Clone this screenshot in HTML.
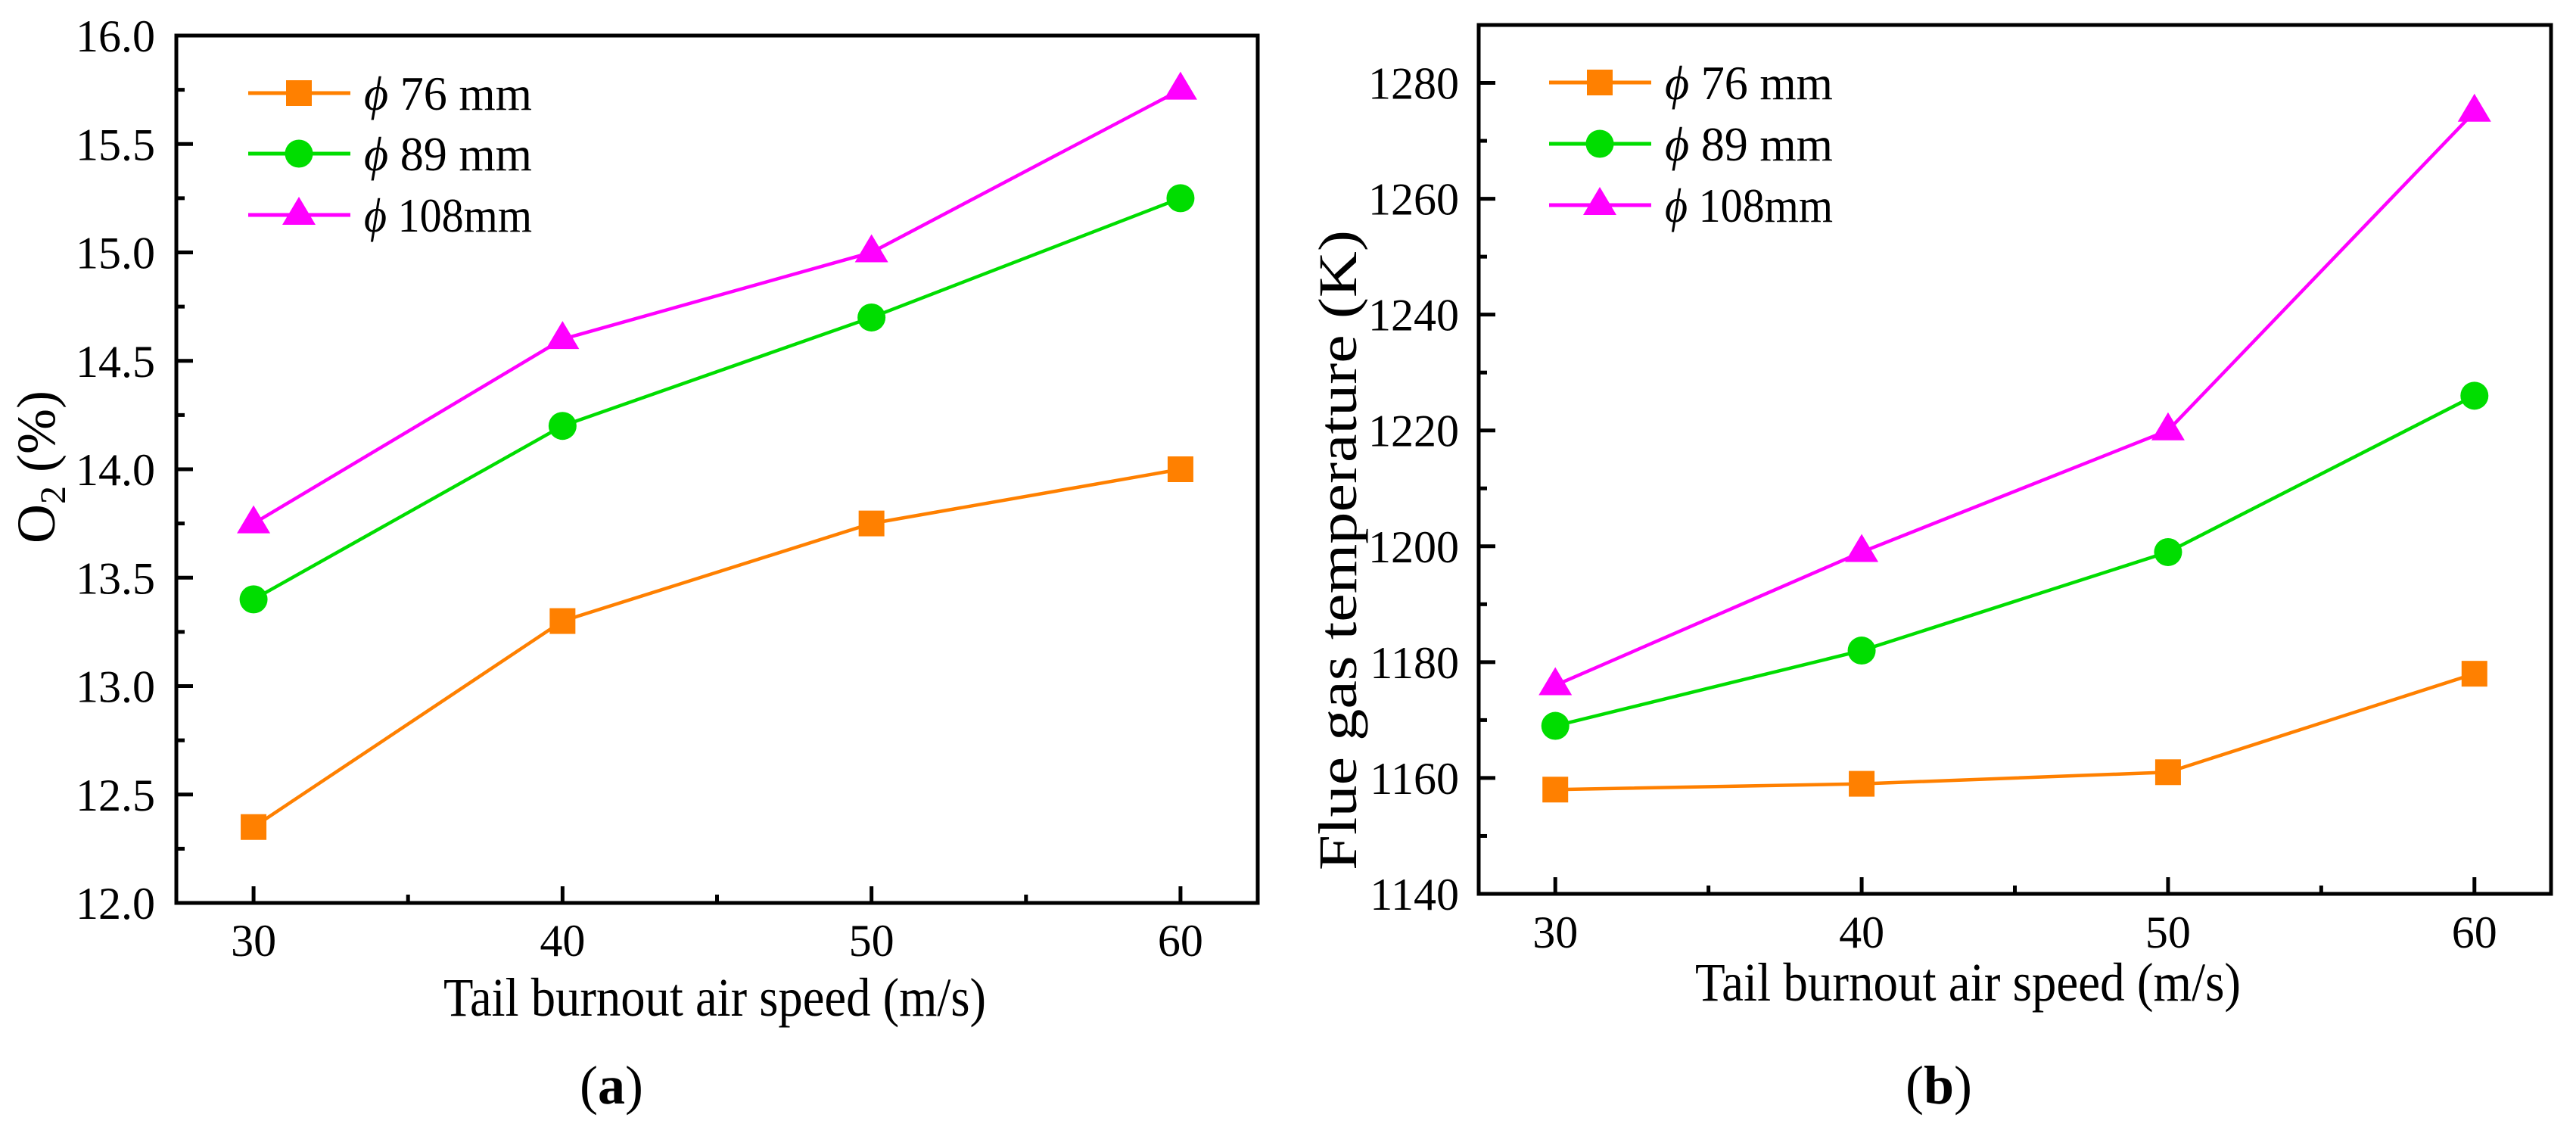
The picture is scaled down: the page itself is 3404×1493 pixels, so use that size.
<!DOCTYPE html>
<html><head><meta charset="utf-8"><style>
html,body{margin:0;padding:0;background:#fff;}
svg{display:block;}
svg text{font-family:"Liberation Serif","DejaVu Serif",serif;}
</style></head><body>
<svg id="chart" width="3404" height="1493" viewBox="0 0 3404 1493" xmlns="http://www.w3.org/2000/svg" font-family="Liberation Serif, serif">
<rect width="3404" height="1493" fill="#fff"/>
</svg>
<script>
const xCats = [30, 40, 50, 60];
const seriesNames = ["76  mm", "89  mm", "108mm"];
const aO76 = [12.35, 13.3, 13.75, 14.0];
const aO89 = [13.4, 14.2, 14.7, 15.25];
const aO108 = [13.75, 14.6, 15.0, 15.75];
const bT76 = [1158, 1159, 1161, 1178];
const bT89 = [1169, 1182, 1199, 1226];
const bT108 = [1176, 1199, 1220, 1275];
const aYTicks = ["12.0","12.5","13.0","13.5","14.0","14.5","15.0","15.5","16.0"];
const bYTicks = ["1140","1160","1180","1200","1220","1240","1260","1280"];
const xTickLabels = ["30","40","50","60"];

const NS = "http://www.w3.org/2000/svg";
const svg = document.getElementById('chart');
const colors = ["#FF8000", "#00DD00", "#FF00FF"];
const markers = ["square", "circle", "triangle"];
const FF = '"Liberation Serif", serif';

function mk(tag, attrs, parent) {
  const e = document.createElementNS(NS, tag);
  for (const k in attrs) e.setAttribute(k, attrs[k]);
  if (tag === 'text') e.setAttribute('font-family', FF);
  (parent || svg).appendChild(e);
  return e;
}
function marker(g, type, cx, cy, color) {
  let e;
  if (type === "square") e = mk('rect', {x: cx-17, y: cy-17, width: 34, height: 34, fill: color}, g);
  else if (type === "circle") e = mk('circle', {cx: cx, cy: cy, r: 18.5, fill: color}, g);
  else e = mk('polygon', {points: `${cx},${cy-24} ${cx+22},${cy+13} ${cx-22},${cy+13}`, fill: color}, g);
  return e;
}

function panel(cfg) {
  const {L, R, T, B, xmin, xmax, ymin, ymax, yTicks, yMinorStep, series, id} = cfg;
  const sx = v => L + (v - xmin) / (xmax - xmin) * (R - L);
  const sy = v => B - (v - ymin) / (ymax - ymin) * (B - T);
  const g = mk('g', {});
  
  

  series.forEach((vals, si) => {
    const sg = mk('g', {}, g);
    
    
    const pts = vals.map((v, i) => sx(xCats[i]) + ',' + sy(v)).join(' ');
    const pl = mk('polyline', {points: pts, fill: 'none', stroke: colors[si], 'stroke-width': 4.5}, sg);
    
    
    vals.forEach((v, i) => {
      const m = marker(sg, markers[si], sx(xCats[i]), sy(v), colors[si]);
      
      
    });
  });

  const fr = mk('rect', {x: L, y: T, width: R - L, height: B - T, fill: 'none', stroke: '#000', 'stroke-width': 5}, g);
  
  

  yTicks.forEach(t => {
    const v = parseFloat(t), y = sy(v);
    mk('line', {x1: L, x2: L + 22, y1: y, y2: y, stroke: '#000', 'stroke-width': 5}, g);
    const tx = mk('text', {x: cfg.yLabelRight, y: y + 21, 'text-anchor': 'end', 'font-size': 60}, g);
    tx.textContent = t;
    
    
  });
  for (let v = ymin + yMinorStep; v < ymax; v += yMinorStep * 2) {
    const y = sy(v);
    mk('line', {x1: L, x2: L + 11, y1: y, y2: y, stroke: '#000', 'stroke-width': 5}, g);
  }
  xCats.forEach((c, i) => {
    const x = sx(c);
    mk('line', {x1: x, x2: x, y1: B, y2: B - 22, stroke: '#000', 'stroke-width': 5}, g);
    const tx = mk('text', {x: x, y: cfg.xLabelBase, 'text-anchor': 'middle', 'font-size': 60}, g);
    tx.textContent = xTickLabels[i];
    
    
  });
  [35, 45, 55].forEach(c => {
    const x = sx(c);
    mk('line', {x1: x, x2: x, y1: B, y2: B - 11, stroke: '#000', 'stroke-width': 5}, g);
  });

  const lg = mk('g', {}, g);
  
  
  seriesNames.forEach((n, si) => {
    const ly = cfg.legY[si];
    const eg = mk('g', {}, lg);
    
    
    mk('line', {x1: cfg.legX, x2: cfg.legX + 135, y1: ly, y2: ly, stroke: colors[si], 'stroke-width': 5}, eg);
    marker(eg, markers[si], cfg.legX + 67, ly, colors[si]);
    const tx = mk('text', {x: cfg.legX + 153, y: ly + 22, 'font-size': 64, textLength: 222, lengthAdjust: 'spacingAndGlyphs'}, eg);
    tx.setAttribute('xml:space', 'preserve');
    const ph = mk('tspan', {'font-style': 'italic'}, tx);
    ph.textContent = 'ϕ ';
    const rest = mk('tspan', {}, tx);
    rest.textContent = n;
  });
  return g;
}

panel({id: 'a', L: 233, R: 1662, T: 47, B: 1193, xmin: 27.5, xmax: 62.5, ymin: 12, ymax: 16,
  yTicks: aYTicks, yMinorStep: 0.25, series: [aO76, aO89, aO108],
  yLabelRight: 205, xLabelBase: 1263, legX: 328, legY: [123, 203, 284]});
panel({id: 'b', L: 1954, R: 3371, T: 33, B: 1181, xmin: 27.5, xmax: 62.5, ymin: 1140, ymax: 1290,
  yTicks: bYTicks, yMinorStep: 10, series: [bT76, bT89, bT108],
  yLabelRight: 1928, xLabelBase: 1252, legX: 2047, legY: [109, 190, 271]});

let t;
t = mk('text', {x: 586, y: 1342, 'font-size': 72, textLength: 717, lengthAdjust: 'spacingAndGlyphs'});
t.textContent = 'Tail burnout air speed (m/s)';


t = mk('text', {x: 2240, y: 1322, 'font-size': 72, textLength: 721, lengthAdjust: 'spacingAndGlyphs'});
t.textContent = 'Tail burnout air speed (m/s)';



t = mk('text', {x: 0, y: 0, 'text-anchor': 'middle', 'font-size': 72, transform: 'translate(72,617) rotate(-90)'});
t.setAttribute('xml:space', 'preserve');
const o = mk('tspan', {}, t); o.textContent = 'O';
const sub = mk('tspan', {'font-size': 48, dy: 14}, t); sub.textContent = '2';
const pc = mk('tspan', {dy: -14}, t); pc.textContent = ' (%)';



t = mk('text', {x: -1150, y: 1792, 'font-size': 72, transform: 'rotate(-90)', textLength: 846, lengthAdjust: 'spacingAndGlyphs'});
t.textContent = 'Flue gas temperature (K)';



t = mk('text', {x: 808, y: 1458, 'text-anchor': 'middle', 'font-size': 72});
t.innerHTML = '(<tspan font-weight="bold">a</tspan>)';


t = mk('text', {x: 2562, y: 1458, 'text-anchor': 'middle', 'font-size': 72});
t.innerHTML = '(<tspan font-weight="bold">b</tspan>)';


</script>
</body></html>
